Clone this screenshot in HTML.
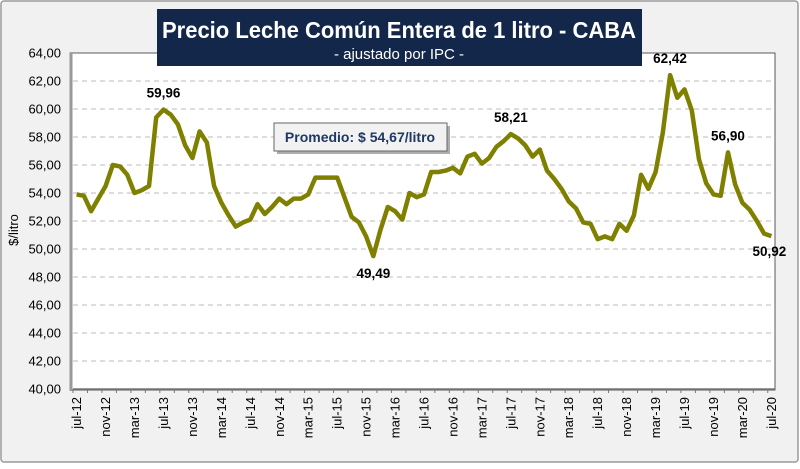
<!DOCTYPE html>
<html><head><meta charset="utf-8"><style>
body{margin:0;width:800px;height:464px;overflow:hidden;background:#fff;font-family:"Liberation Sans",Calibri,sans-serif}
</style></head><body>
<svg width="800" height="464" xmlns="http://www.w3.org/2000/svg" id="chart">
<rect x="1" y="1" width="797" height="461" rx="3" fill="#f1f1f1" stroke="#9a9a9a" stroke-width="1.5"/>
<rect x="70" y="53" width="705" height="337" fill="#fff" stroke="#333" stroke-width="0.8"/>
<line x1="71" y1="53" x2="71" y2="391" stroke="#999" stroke-width="3"/>
<g id="grid"></g><g id="yt"></g><g id="xt"></g>
<path id="line" fill="none" stroke="#808000" stroke-width="4.5" stroke-linejoin="round"/>
<g id="labels"></g>
<rect x="157" y="9" width="485" height="57" fill="#13274a"/>
<text x="162" y="38" textLength="474" lengthAdjust="spacingAndGlyphs" fill="#fff" font-size="23" font-weight="bold">Precio Leche Común Entera de 1 litro - CABA</text>
<text x="399" y="59" text-anchor="middle" fill="#fff" font-size="15">- ajustado por IPC -</text>
<rect x="277" y="126" width="173" height="28" fill="#777" opacity="0.6"/>
<rect x="274" y="123" width="173" height="28" fill="#f2f2f2" stroke="#666" stroke-width="1"/>
<text x="360" y="142" text-anchor="middle" fill="#1f3864" font-size="14" font-weight="bold">Promedio: $ 54,67/litro</text>
<text transform="translate(18,230) rotate(-90)" text-anchor="middle" font-size="13" fill="#000">$/litro</text>
</svg>
<script>
const months=["jul","ago","sep","oct","nov","dic","ene","feb","mar","abr","may","jun"];
const tickLabels=["jul-12","nov-12","mar-13","jul-13","nov-13","mar-14","jul-14","nov-14","mar-15","jul-15","nov-15","mar-16","jul-16","nov-16","mar-17","jul-17","nov-17","mar-18","jul-18","nov-18","mar-19","jul-19","nov-19","mar-20","jul-20"];
const values=[53.9,53.8,52.7,53.6,54.5,56.0,55.9,55.3,54.0,54.2,54.5,59.4,59.96,59.6,58.9,57.4,56.5,58.4,57.6,54.5,53.3,52.4,51.6,51.9,52.1,53.2,52.5,53.0,53.6,53.2,53.6,53.6,53.9,55.1,55.1,55.1,55.1,53.7,52.3,51.9,50.9,49.49,51.4,53.0,52.7,52.1,54.0,53.7,53.9,55.5,55.5,55.6,55.8,55.4,56.6,56.8,56.1,56.5,57.3,57.7,58.21,57.9,57.4,56.6,57.1,55.6,55.0,54.3,53.4,52.9,51.9,51.8,50.7,50.9,50.7,51.8,51.3,52.4,55.3,54.3,55.5,58.3,62.42,60.8,61.4,59.9,56.4,54.7,53.9,53.8,56.90,54.6,53.3,52.8,52.0,51.1,50.92];
const yTicks=[40,42,44,46,48,50,52,54,56,58,60,62,64];
const annotIdx=[12,41,60,82,90,96];
const annotText=["59,96","49,49","58,21","62,42","56,90","50,92"];
const annotDy=[-12,22,-12,-12,-12,20];
const NS="http://www.w3.org/2000/svg";
const X0=73,X1=775,Y0=389,Y1=53,YMIN=40,YMAX=64;
const n=values.length,step=(X1-X0)/n;
const xs=i=>X0+step*(i+0.5);
const ys=v=>Y0-(v-YMIN)/(YMAX-YMIN)*(Y0-Y1);
function mk(t,a,p){const e=document.createElementNS(NS,t);for(const k in a)e.setAttribute(k,a[k]);p.appendChild(e);return e;}
const grid=document.getElementById('grid'),yt=document.getElementById('yt'),xt=document.getElementById('xt');
yTicks.forEach(v=>{
 if(v>YMIN&&v<YMAX){const g=mk('line',{x1:X0,x2:X1,y1:ys(v),y2:ys(v),stroke:'#bbb','stroke-dasharray':'5,4'},grid);
 
 }
 const t=mk('text',{x:61,y:ys(v)+4.5,'text-anchor':'end','font-size':'13',fill:'#000'},yt);
 t.textContent=v.toFixed(2).replace('.',',');
 
 
});
mk('line',{x1:X0,x2:X1,y1:Y0,y2:Y0,stroke:'#777','stroke-width':1.5},xt);
for(let i=0;i<=n;i+=2){mk('line',{x1:X0+step*i,x2:X0+step*i,y1:Y0,y2:Y0+4,stroke:'#777'},xt);}
tickLabels.forEach((l,k)=>{
 const x=xs(k*4);
 const t=mk('text',{transform:`translate(${x+4.5},397) rotate(-90)`,'text-anchor':'end','font-size':'13',fill:'#000'},xt);
 t.textContent=l;
 
 
});
document.getElementById('line').setAttribute('d',values.map((v,i)=>(i?'L':'M')+xs(i).toFixed(1)+','+ys(v).toFixed(1)).join(''));
const lab=document.getElementById('labels');
annotIdx.forEach((idx,k)=>{
 const t=mk('text',{x:xs(idx)+(idx===96?-2:0),y:ys(values[idx])+annotDy[k],'text-anchor':'middle','font-size':'13.5','font-weight':'bold',fill:'#000'},lab);
 t.textContent=annotText[k];
 
 
});
</script>
</body></html>
